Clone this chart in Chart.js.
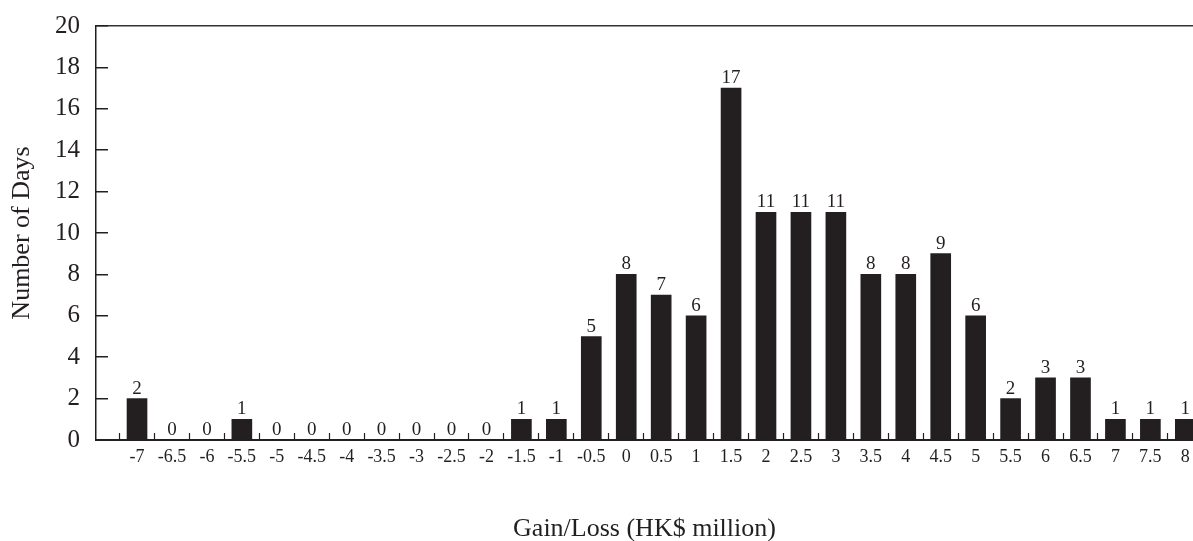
<!DOCTYPE html>
<html>
<head>
<meta charset="utf-8">
<script src="https://cdn.jsdelivr.net/npm/chart.js@4/dist/chart.umd.min.js"></script>
<style>
  html, body { margin: 0; padding: 0; background: #fff; }
  canvas { display: block; }
</style>
</head>
<body>
<canvas id="chart" width="1193" height="541"></canvas>
<script>
const gains = [-7, -6.5, -6, -5.5, -5, -4.5, -4, -3.5, -3, -2.5, -2, -1.5, -1, -0.5,
  0, 0.5, 1, 1.5, 2, 2.5, 3, 3.5, 4, 4.5, 5, 5.5, 6, 6.5, 7, 7.5, 8];
const days = [2, 0, 0, 1, 0, 0, 0, 0, 0, 0, 0, 1, 1, 5,
  8, 7, 6, 17, 11, 11, 11, 8, 8, 9, 6, 2, 3, 3, 1, 1, 1];
const yTicks = [0, 2, 4, 6, 8, 10, 12, 14, 16, 18, 20];

const ink = "#231f20";
const serif = "'Liberation Serif', 'Times New Roman', serif";

// numbers printed over each bar
const barLabels = {
  id: "barLabels",
  afterDatasetsDraw(chart) {
    const ctx = chart.ctx;
    const meta = chart.getDatasetMeta(0);
    ctx.save();
    ctx.fillStyle = ink;
    ctx.font = "19px " + serif;
    ctx.textAlign = "center";
    ctx.textBaseline = "alphabetic";
    meta.data.forEach((bar, i) => {
      ctx.fillText(String(days[i]), bar.x, bar.y - 5);
    });
    ctx.restore();
  }
};

// keep the plot box fixed, no extra room for edge labels
const noEdgePadding = scale => {
  scale.paddingTop = 0;
  scale.paddingBottom = 0;
  scale.paddingLeft = 0;
  scale.paddingRight = 0;
};

new Chart(document.getElementById("chart").getContext("2d"), {
  type: "bar",
  data: {
    datasets: [{
      data: gains.map((g, i) => ({ x: g, y: days[i] })),
      backgroundColor: ink,
      borderWidth: 0,
      barThickness: 20
    }]
  },
  plugins: [barLabels],
  options: {
    responsive: false,
    animation: false,
    layout: { autoPadding: false, padding: { top: 26, right: 0, left: 0, bottom: 0 } },
    plugins: {
      legend: { display: false },
      tooltip: { enabled: false }
    },
    scales: {
      x: {
        type: "linear",
        offset: false,
        min: -7.587,
        max: 8.11,
        afterBuildTicks: scale => {
          scale.ticks = gains.map(v => ({ value: v }));
        },
        afterFit: scale => {
          scale.height = 101;
          noEdgePadding(scale);
        },
        border: { display: true, color: ink, width: 2 },
        grid: {
          offset: true,
          drawOnChartArea: false,
          drawTicks: true,
          tickLength: -7,
          tickColor: ink,
          tickWidth: 1.2
        },
        ticks: {
          autoSkip: false,
          maxRotation: 0,
          padding: 13,
          color: ink,
          font: { family: serif, size: 18 },
          callback: v => String(v)
        },
        title: {
          display: true,
          text: "Gain/Loss (HK$ million)",
          color: ink,
          font: { family: serif, size: 26, lineHeight: 1 },
          padding: { top: 0, bottom: -1 }
        }
      },
      y: {
        min: 0,
        max: 20,
        afterBuildTicks: scale => {
          scale.ticks = yTicks.map(v => ({ value: v }));
        },
        afterFit: scale => {
          scale.width = 96;
          noEdgePadding(scale);
        },
        border: { display: true, color: ink, width: 1.5 },
        grid: {
          color: c => (c.tick && c.tick.value === 20 ? "#333" : "rgba(0,0,0,0)"),
          lineWidth: 1.5,
          drawTicks: true,
          tickLength: -12,
          tickColor: ink,
          tickWidth: 1.5
        },
        ticks: {
          padding: 28,
          color: ink,
          font: { family: serif, size: 25 }
        },
        title: {
          display: true,
          text: "Number of Days",
          color: ink,
          font: { family: serif, size: 26, lineHeight: 1 },
          padding: { top: 9, bottom: 0 }
        }
      }
    }
  }
});
</script>
</body>
</html>
